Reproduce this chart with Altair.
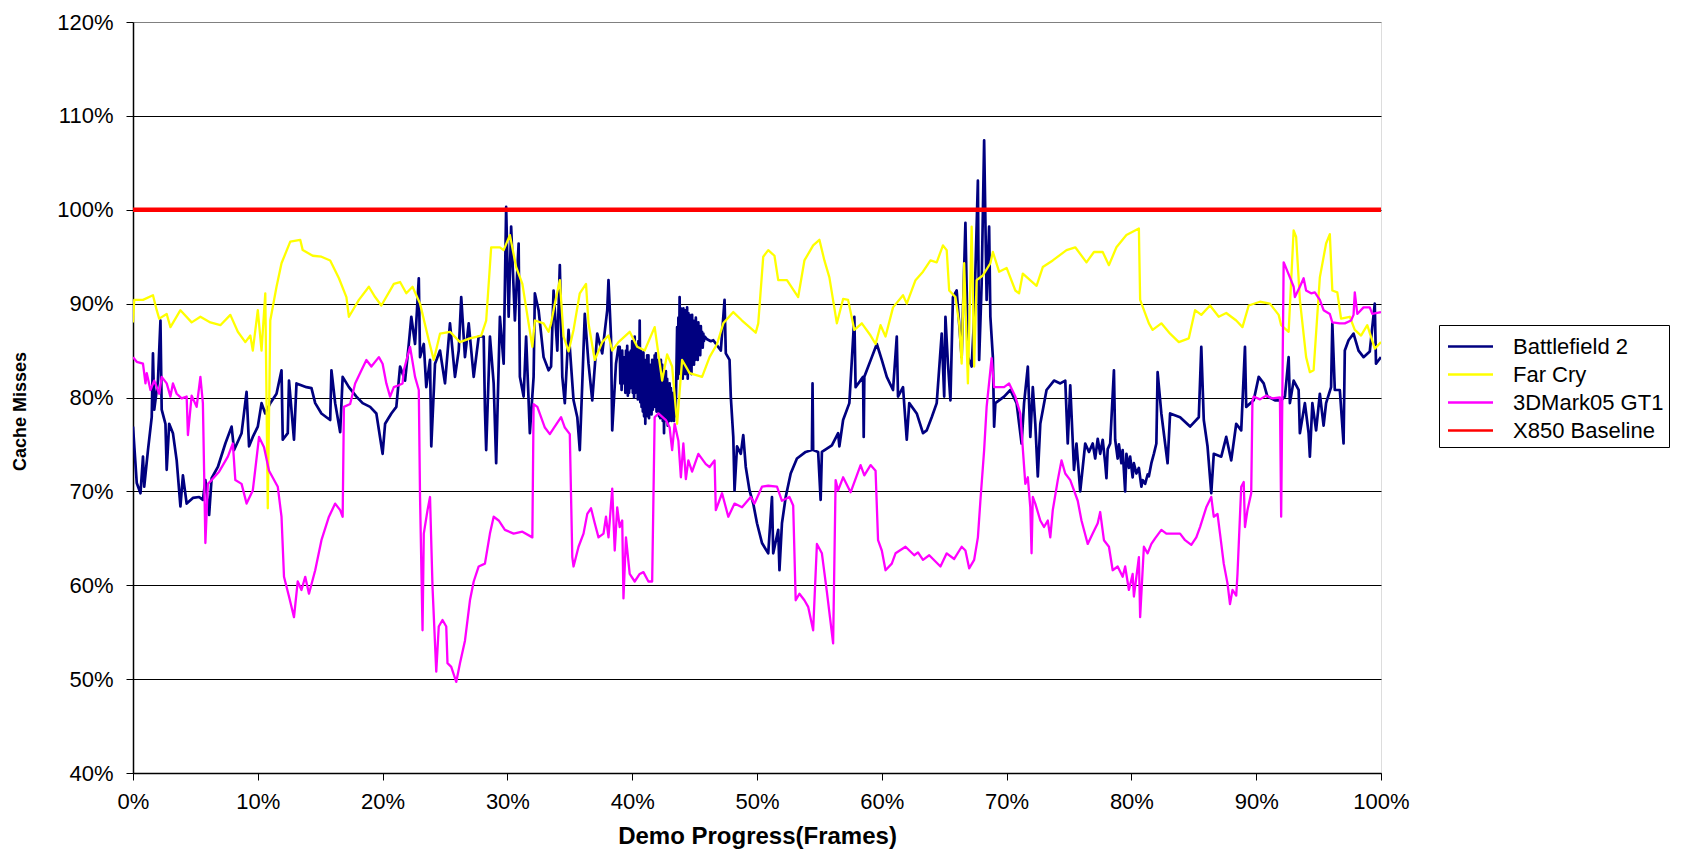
import altair as alt
import pandas as pd

SERIES = ["Battlefield 2", "Far Cry", "3DMark05 GT1", "X850 Baseline"]
COLORS = ["#000080", "#FFFF00", "#FF00FF", "#FF0000"]
WIDTHS = [2.7, 2.3, 2.3, 4.5]
X_TICKS = [0, 10, 20, 30, 40, 50, 60, 70, 80, 90, 100]
Y_TICKS = [40, 50, 60, 70, 80, 90, 100, 110, 120]

BF2_X = [0.0, 0.3, 0.6, 0.8, 0.9, 1.2, 1.5, 1.6, 1.7, 2.0, 2.2, 2.3, 2.6, 2.7, 2.9, 3.2, 3.5, 3.8, 4.0, 4.3,
         4.8, 5.3, 5.6, 5.8, 6.1, 6.3, 6.8, 7.4, 7.9, 8.1, 8.7, 9.1, 9.3, 9.6, 10.0, 10.3, 10.6, 11.0, 11.5, 11.9,
         12.0, 12.4, 12.5, 12.9, 13.1, 13.9, 14.3, 14.6, 15.1, 15.5, 15.8, 15.9, 16.2, 16.6, 16.8, 17.3, 17.9, 18.4, 19.0, 19.5,
         20.0, 20.2, 20.7, 21.1, 21.4, 21.8, 22.1, 22.3, 22.6, 22.9, 23.0, 23.3, 23.5, 23.8, 23.9, 24.2, 24.6, 25.0, 25.4, 25.8,
         26.1, 26.3, 26.6, 26.9, 27.3, 27.7, 28.1, 28.2, 28.3, 28.6, 28.9, 29.1, 29.4, 29.7, 29.9, 30.1, 30.3, 30.6, 30.9, 31.0,
         31.3, 31.5, 31.8, 32.1, 32.2, 32.5, 32.9, 33.3, 33.5, 33.7, 34.0, 34.2, 34.4, 34.6, 34.9, 35.3, 35.6, 35.8, 36.0, 36.2,
         36.5, 36.8, 37.2, 37.6, 38.0, 38.1, 38.3, 38.4, 38.7, 38.9,
         39.0, 39.05, 39.1, 39.15, 39.2, 39.25, 39.3, 39.35, 39.4, 39.45, 39.5, 39.55, 39.6, 39.65, 39.7, 39.75, 39.8, 39.85, 39.9, 39.95,
         40.0, 40.05, 40.1, 40.15, 40.2, 40.25, 40.3, 40.35, 40.4, 40.45, 40.5, 40.55, 40.6, 40.65, 40.7, 40.75, 40.8, 40.85, 40.9, 40.95,
         41.0, 41.05, 41.1, 41.15, 41.2, 41.25, 41.3, 41.35, 41.4, 41.45, 41.5, 41.55, 41.6, 41.65, 41.7, 41.75, 41.8, 41.85, 41.9, 41.95,
         42.0, 42.05, 42.1, 42.15, 42.2, 42.25, 42.3, 42.35, 42.4, 42.45, 42.5, 42.55, 42.6, 42.65, 42.7, 42.75, 42.8, 42.85, 42.9, 42.95,
         43.0, 43.05, 43.1, 43.15, 43.2, 43.25, 43.3, 43.35, 43.4, 43.45, 43.5,
         43.6, 43.65, 43.7, 43.75, 43.8, 43.85, 43.9, 43.95, 44.0, 44.05, 44.1, 44.15,
         44.2, 44.25, 44.3, 44.35, 44.4, 44.45, 44.5, 44.55, 44.6, 44.65, 44.7, 44.75, 44.8, 44.85, 44.9, 44.95, 45.0, 45.05, 45.1, 45.15,
         45.2, 45.25, 45.3, 45.35, 45.4, 45.45, 45.5, 45.55, 45.6, 45.65, 45.7, 45.75, 45.8, 46.0, 46.3,
         46.5, 47.1, 47.4, 47.5, 47.8, 47.9, 48.1, 48.2, 48.4, 48.7, 48.9, 49.1, 49.4, 49.7, 50.0, 50.4, 50.9, 51.2, 51.3, 51.7,
         51.8, 52.0, 52.3, 52.7, 53.2, 53.9, 54.4, 54.45, 54.5, 54.9, 55.1, 55.2, 56.0, 56.5, 56.6, 56.9, 57.4, 57.8, 57.9, 58.5,
         58.55, 58.6, 59.2, 59.6, 60.0, 60.4, 60.9, 61.2, 61.3, 61.7, 62.0, 62.2, 62.8, 63.3, 63.6, 64.0, 64.4, 64.8, 65.0, 65.1,
         65.3, 65.5, 65.7, 66.0, 66.4, 66.7, 66.9, 67.2, 67.4, 67.7, 67.8, 68.0, 68.2, 68.4, 68.6, 68.7, 68.9, 69.0, 69.1, 69.8,
         70.3, 70.8, 71.2, 71.4, 71.7, 71.9, 72.1, 72.3, 72.5, 72.7, 73.2, 73.8, 74.3, 74.7, 74.9, 75.1, 75.4, 75.6, 75.9, 76.3,
         76.6, 76.9, 77.1, 77.3, 77.5, 77.7, 77.9, 78.0, 78.1, 78.3, 78.6, 78.7, 78.9, 79.0, 79.2, 79.3, 79.5, 79.6, 79.8, 79.9,
         80.1, 80.2, 80.4, 80.6, 80.8, 80.9, 81.1, 81.3, 81.4, 81.6, 81.8, 82.0, 82.1, 82.4, 82.9, 83.1, 83.9, 84.7, 85.4, 85.6,
         85.8, 86.1, 86.4, 86.6, 87.2, 87.6, 88.0, 88.4, 88.8, 89.1, 89.2, 89.8, 90.2, 90.6, 90.9, 91.5, 92.0, 92.3, 92.6, 92.7,
         93.0, 93.4, 93.5, 93.9, 94.2, 94.3, 94.5, 94.8, 95.1, 95.4, 95.6, 96.0, 96.1, 96.3, 96.7, 97.0, 97.1, 97.4, 97.8, 98.2,
         98.6, 99.1, 99.5, 99.6, 100.0]
BF2_Y = [76.9, 70.9, 69.8, 73.7, 70.5, 74.4, 77.9, 84.7, 78.7, 81.8, 88.2, 78.7, 77.2, 72.3, 77.2, 76.2, 73.3, 68.4, 71.7, 68.7,
         69.3, 69.4, 69.1, 71.2, 67.5, 71.4, 72.6, 75.1, 76.9, 74.4, 76.2, 80.6, 74.8, 75.8, 76.9, 79.4, 78.3, 79.4, 80.4, 82.9,
         75.5, 76.2, 81.8, 75.5, 81.5, 81.1, 81.0, 79.4, 78.3, 77.9, 77.6, 82.9, 79.4, 76.3, 82.2, 81.1, 80.1, 79.4, 79.0, 78.3,
         74.0, 77.2, 78.3, 79.0, 83.3, 81.8, 85.7, 88.6, 85.7, 92.7, 84.3, 85.7, 81.1, 84.0, 74.8, 83.6, 85.0, 81.5, 87.9, 82.2,
         85.0, 90.7, 84.3, 87.9, 82.2, 86.5, 86.5, 78.7, 74.4, 86.5, 81.5, 73.0, 88.6, 83.6, 100.3, 88.6, 98.2, 88.2, 96.4, 82.2,
         80.1, 86.5, 76.2, 82.2, 91.1, 89.3, 84.3, 82.9, 83.3, 91.4, 85.0, 94.1, 82.2, 79.4, 87.2, 79.7, 77.9, 74.4, 81.5, 88.9,
         83.6, 79.7, 86.8, 84.7, 89.3, 92.5, 86.5, 76.5, 83.6, 85.4,
         85.4, 81.5, 84.5, 80.8, 85.0, 81.5, 84.0, 82.0, 84.3, 80.5, 85.0, 81.0, 85.5, 80.2, 84.8, 80.5, 84.0, 81.0, 85.0, 81.5,
         86.0, 80.5, 85.5, 80.0, 86.5, 80.5, 85.5, 81.0, 85.0, 79.8, 86.0, 80.5, 88.2, 79.5, 85.0, 79.0, 84.5, 78.5, 84.8, 78.0,
         84.0, 77.2, 83.5, 78.5, 84.5, 78.0, 84.5, 77.8, 83.5, 78.5, 83.0, 78.2, 84.0, 78.7, 84.0, 79.0, 84.5, 79.5, 84.7, 78.5,
         84.0, 79.0, 83.5, 78.0, 84.0, 77.8, 84.0, 78.0, 83.5, 77.5, 83.0, 76.2, 82.5, 77.5, 82.8, 78.0, 82.0, 77.0, 81.5, 77.5,
         81.5, 78.0, 81.0, 77.5, 80.5, 78.0, 80.5, 77.5, 80.0, 78.0, 79.5,
         87.5, 82.0, 88.5, 83.0, 90.7, 82.5, 89.5, 83.5, 89.0, 82.0, 89.5, 83.0,
         89.0, 82.5, 89.3, 83.0, 89.6, 82.0, 89.0, 82.8, 88.8, 83.5, 88.5, 82.5, 88.8, 84.0, 88.2, 83.5, 88.0, 84.0, 88.5, 84.5,
         87.8, 84.0, 88.0, 85.0, 87.5, 84.5, 87.6, 85.5, 87.0, 85.3, 86.8, 86.0, 86.5, 86.2, 86.0,
         86.1, 85.0, 90.4, 84.7, 84.0, 80.1, 75.8, 70.1, 74.8, 74.0, 76.0, 72.6, 70.1, 68.7, 66.6, 64.5, 63.4, 69.4, 63.4, 65.9,
         61.6, 66.6, 69.4, 71.9, 73.5, 74.2, 74.4, 81.5, 74.4, 74.2, 69.1, 74.2, 74.9, 76.2, 74.8, 77.6, 79.4, 88.6, 81.1, 82.2,
         75.8, 82.2, 84.3, 85.7, 84.0, 82.2, 80.8, 86.5, 80.1, 81.1, 75.5, 79.4, 78.3, 76.2, 76.5, 77.9, 79.4, 86.8, 80.1, 88.6,
         83.6, 79.7, 90.7, 91.4, 84.3, 98.6, 84.3, 83.3, 88.6, 103.1, 84.0, 92.1, 107.4, 90.4, 98.2, 88.6, 84.3, 76.9, 79.4, 80.1,
         80.8, 79.4, 75.1, 79.4, 83.3, 75.8, 81.1, 77.2, 71.6, 77.2, 80.8, 81.8, 81.5, 81.8, 75.1, 81.3, 72.3, 75.1, 70.0, 75.1,
         74.2, 75.1, 73.5, 75.6, 74.0, 75.5, 73.0, 71.4, 74.5, 75.1, 82.9, 75.5, 73.5, 75.0, 73.0, 74.4, 70.0, 74.0, 72.5, 73.7,
         71.5, 73.0, 71.9, 72.5, 70.5, 71.2, 70.8, 71.8, 71.6, 73.0, 74.0, 75.1, 82.7, 78.3, 73.0, 78.3, 77.9, 76.9, 77.9, 85.4,
         77.6, 74.8, 69.8, 74.0, 73.7, 75.8, 73.3, 77.2, 76.5, 85.4, 79.0, 79.7, 82.2, 81.5, 80.1, 79.7, 79.7, 80.1, 84.3, 79.4,
         81.8, 80.8, 76.2, 79.4, 76.2, 73.7, 79.4, 76.5, 80.4, 77.0, 79.4, 81.1, 87.9, 80.8, 80.8, 75.1, 85.0, 86.1, 86.8, 85.0,
         84.3, 84.9, 90.0, 83.6, 84.3]

FC_X = [0.0, 0.1, 0.8, 1.6, 1.9, 2.1, 2.7, 3.0, 3.8, 4.7, 5.4, 6.2, 7.0, 7.8, 8.4, 9.0, 9.4, 9.6, 10.0, 10.3,
        10.6, 10.8, 11.0, 11.5, 11.9, 12.6, 13.4, 13.6, 14.4, 15.1, 15.8, 16.5, 17.1, 17.3, 18.1, 18.9, 19.4, 19.9, 20.9, 21.4,
        21.9, 22.4, 23.0, 23.7, 24.1, 24.6, 25.4, 26.2, 27.0, 27.9, 28.3, 28.7, 29.4, 29.7, 30.2, 30.7, 31.2, 31.7, 32.0, 32.2,
        32.9, 33.3, 33.5, 33.8, 34.2, 34.5, 34.9, 35.3, 35.8, 36.3, 36.5, 37.0, 37.6, 38.1, 38.4, 38.9, 39.8, 40.4, 41.0, 41.8,
        42.4, 42.8, 43.2, 43.6, 44.0, 44.6, 45.6, 46.2, 46.8, 47.3, 48.1, 48.8, 49.4, 49.9, 50.1, 50.5, 50.9, 51.4, 51.7, 52.4,
        53.3, 53.8, 54.5, 55.0, 55.4, 55.8, 56.4, 56.9, 57.3, 57.8, 58.4, 59.1, 59.5, 59.9, 60.3, 60.9, 61.7, 62.0, 62.7, 63.3,
        63.9, 64.4, 64.9, 65.2, 65.4, 65.9, 66.2, 66.4, 66.6, 66.9, 67.2, 67.4, 67.6, 68.1, 68.7, 68.9, 69.4, 70.0, 70.7, 71.0,
        71.3, 72.4, 72.9, 73.7, 74.8, 75.5, 76.4, 77.0, 77.7, 78.2, 78.8, 79.6, 80.6, 80.7, 81.4, 81.7, 82.4, 83.1, 83.8, 84.6,
        85.1, 85.6, 86.3, 87.0, 87.6, 88.4, 88.9, 89.4, 90.3, 91.1, 91.8, 92.0, 92.6, 93.0, 93.2, 93.5, 94.0, 94.3, 94.6, 95.1,
        95.6, 95.9, 96.1, 96.5, 96.8, 97.5, 97.9, 98.4, 98.9, 99.5, 100.0]
FC_Y = [88.0, 90.4, 90.4, 90.9, 89.3, 88.4, 88.9, 87.5, 89.3, 88.0, 88.6, 88.0, 87.7, 88.8, 87.0, 85.9, 86.6, 85.0, 89.3, 85.0,
        91.1, 68.2, 88.2, 91.8, 94.3, 96.6, 96.8, 95.7, 95.1, 95.0, 94.6, 92.7, 90.7, 88.6, 90.4, 91.8, 90.7, 89.8, 92.1, 92.3,
        91.1, 91.8, 90.0, 86.1, 84.0, 86.8, 87.0, 85.9, 86.3, 86.6, 88.2, 96.0, 96.0, 95.7, 97.3, 93.9, 92.1, 87.9, 85.4, 88.2,
        87.9, 87.0, 87.9, 90.0, 92.5, 86.5, 84.9, 87.2, 91.1, 92.1, 87.9, 84.0, 85.9, 86.6, 85.0, 85.9, 87.0, 85.4, 85.0, 87.5,
        81.8, 84.6, 83.3, 77.2, 84.0, 82.6, 82.2, 84.3, 85.7, 87.9, 89.1, 88.2, 87.5, 86.9, 87.9, 95.0, 95.7, 95.1, 92.5, 92.5,
        90.7, 94.6, 96.2, 96.8, 94.6, 92.8, 87.9, 90.5, 90.4, 87.2, 87.9, 86.6, 85.7, 87.7, 86.5, 89.6, 90.9, 90.0, 92.5, 93.4,
        94.6, 94.4, 96.2, 95.7, 91.4, 90.7, 87.9, 83.6, 94.3, 81.5, 98.2, 83.3, 92.5, 93.0, 94.3, 95.5, 93.4, 93.8, 91.4, 91.1,
        93.2, 91.9, 93.9, 94.6, 95.7, 96.0, 94.4, 95.5, 95.5, 94.1, 96.0, 97.3, 98.0, 90.4, 87.9, 87.2, 87.9, 86.8, 85.9, 86.3,
        89.3, 88.8, 89.8, 88.6, 89.0, 88.2, 87.5, 89.8, 90.2, 90.0, 88.8, 87.7, 87.0, 97.8, 97.1, 90.4, 84.3, 82.7, 82.9, 92.8,
        96.4, 97.4, 91.4, 91.2, 88.4, 88.6, 87.2, 86.6, 87.7, 85.2, 85.9]

GT1_X = [0.0, 0.3, 0.8, 1.0, 1.1, 1.4, 1.7, 2.1, 2.3, 2.7, 3.0, 3.2, 3.5, 3.9, 4.3, 4.4, 4.7, 5.1, 5.4, 5.6,
         5.8, 6.0, 6.3, 6.9, 7.6, 8.0, 8.2, 8.7, 9.1, 9.6, 10.1, 10.5, 10.9, 11.6, 11.9, 12.1, 12.5, 12.9, 13.2, 13.5,
         13.8, 14.1, 14.6, 15.1, 15.7, 16.2, 16.6, 16.8, 16.9, 17.4, 17.8, 18.2, 18.7, 19.1, 19.7, 20.0, 20.3, 20.6, 20.9, 21.3,
         21.6, 21.7, 22.2, 22.6, 22.9, 23.0, 23.2, 23.3, 23.6, 23.8, 24.0, 24.3, 24.5, 24.8, 25.1, 25.2, 25.5, 25.9, 26.2, 26.6,
         27.0, 27.3, 27.7, 28.2, 28.6, 28.9, 29.3, 29.8, 30.5, 31.2, 32.0, 32.1, 32.4, 33.0, 33.4, 33.7, 34.3, 34.6, 35.0, 35.2,
         35.3, 35.7, 36.1, 36.4, 36.7, 37.0, 37.3, 37.7, 37.9, 38.1, 38.4, 38.6, 38.8, 39.0, 39.2, 39.3, 39.5, 39.8, 40.2, 40.6,
         40.9, 41.3, 41.6, 41.8, 42.1, 42.7, 43.0, 43.2, 43.4, 43.7, 43.9, 44.1, 44.3, 44.5, 44.8, 45.3, 45.9, 46.2, 46.6, 46.7,
         47.2, 47.7, 48.2, 48.8, 49.5, 49.8, 50.4, 50.9, 51.6, 52.0, 52.6, 52.9, 53.1, 53.4, 53.8, 54.1, 54.5, 54.8, 55.2, 55.6,
         56.1, 56.3, 56.5, 56.9, 57.5, 58.3, 58.6, 59.1, 59.5, 59.7, 60.0, 60.3, 60.8, 61.1, 61.9, 62.6, 62.9, 63.3, 63.8, 64.7,
         65.2, 65.8, 66.4, 66.7, 67.0, 67.4, 67.7, 67.9, 68.2, 68.4, 68.8, 69.0, 69.8, 70.2, 70.7, 71.1, 71.5, 71.7, 71.9, 72.0,
         72.1, 72.3, 72.7, 73.0, 73.3, 73.5, 73.7, 74.1, 74.4, 74.7, 75.1, 75.4, 75.7, 76.0, 76.5, 76.9, 77.3, 77.5, 77.8, 78.2,
         78.5, 78.9, 79.3, 79.5, 79.8, 80.1, 80.2, 80.6, 80.7, 81.0, 81.3, 81.6, 81.9, 82.4, 82.8, 83.3, 83.9, 84.3, 84.8, 85.2,
         85.5, 86.0, 86.4, 86.6, 86.9, 87.1, 87.4, 87.7, 87.9, 88.1, 88.4, 88.5, 88.8, 89.0, 89.1, 89.3, 89.6, 89.7, 89.8, 90.3,
         90.8, 91.3, 91.9, 92.0, 92.2, 92.3, 92.7, 93.0, 93.1, 93.5, 93.8, 94.0, 94.4, 94.7, 95.1, 95.4, 95.9, 96.1, 96.7, 97.1,
         97.6, 97.8, 97.9, 98.1, 98.6, 99.1, 99.3, 100.0]
GT1_Y = [84.3, 83.8, 83.6, 81.5, 82.6, 80.8, 81.8, 80.4, 82.2, 81.5, 80.1, 81.5, 80.4, 79.9, 80.1, 76.0, 80.2, 79.0, 82.2, 79.4,
         64.5, 70.8, 71.2, 72.1, 73.7, 75.1, 71.2, 70.8, 68.7, 70.1, 75.8, 74.7, 72.2, 70.5, 67.3, 60.9, 58.8, 56.6, 60.4, 59.5,
         60.9, 59.1, 61.6, 64.8, 67.3, 68.7, 68.0, 67.3, 79.0, 79.3, 81.5, 82.6, 84.0, 83.3, 84.3, 83.6, 81.5, 80.1, 81.1, 81.3,
         81.5, 82.9, 85.4, 82.2, 80.8, 69.4, 55.2, 65.5, 68.0, 69.4, 59.8, 50.8, 55.6, 56.3, 55.6, 51.7, 51.3, 49.7, 51.7, 54.1,
         58.4, 60.4, 62.0, 62.3, 65.5, 67.3, 66.9, 65.9, 65.5, 65.7, 65.1, 79.3, 79.0, 76.8, 76.1, 76.7, 77.9, 76.8, 76.1, 63.0,
         62.0, 64.1, 65.5, 67.6, 68.2, 66.6, 65.1, 65.5, 67.3, 65.1, 70.3, 63.7, 68.3, 66.2, 66.9, 58.6, 65.1, 61.2, 60.4, 61.2,
         61.4, 60.4, 60.4, 77.9, 78.3, 77.6, 76.8, 74.4, 77.2, 75.4, 71.5, 75.1, 71.3, 73.3, 72.1, 74.0, 72.9, 72.6, 73.3, 68.0,
         69.8, 67.3, 68.7, 68.3, 69.4, 68.7, 70.5, 70.6, 70.5, 69.0, 69.4, 68.5, 58.4, 59.1, 58.4, 57.7, 55.2, 64.4, 63.4, 59.3,
         53.8, 71.2, 70.1, 71.5, 69.9, 72.8, 71.7, 72.8, 72.2, 64.8, 63.7, 61.6, 62.3, 63.4, 64.1, 63.2, 63.5, 62.7, 63.2, 62.0,
         63.4, 62.8, 64.1, 63.7, 61.8, 62.7, 65.1, 69.0, 74.4, 79.0, 84.2, 81.1, 81.1, 81.5, 80.1, 78.3, 70.8, 71.5, 68.3, 63.4,
         69.4, 68.7, 66.9, 66.2, 66.9, 65.1, 68.0, 71.2, 73.3, 71.9, 71.2, 70.1, 69.0, 66.9, 64.4, 65.5, 66.6, 67.8, 64.8, 64.1,
         61.6, 62.0, 60.9, 62.0, 59.5, 61.2, 58.8, 63.0, 56.6, 64.1, 63.4, 64.4, 65.0, 65.9, 65.5, 65.5, 65.5, 64.8, 64.3, 65.1,
         66.2, 68.3, 69.4, 67.3, 67.6, 65.5, 62.3, 60.2, 58.0, 59.5, 58.9, 61.2, 70.5, 71.0, 66.2, 68.0, 69.8, 79.7, 80.1, 79.8,
         80.2, 79.9, 80.0, 67.3, 94.4, 94.1, 92.8, 91.8, 90.7, 91.8, 92.7, 91.4, 91.1, 91.2, 90.4, 89.3, 88.9, 88.0, 87.9, 87.9,
         88.2, 88.8, 91.2, 88.9, 89.6, 89.6, 88.9, 89.1]

BASE_X = [0, 100]
BASE_Y = [100, 100]

rows = []
for name, xs, ys in [(SERIES[0], BF2_X, BF2_Y), (SERIES[1], FC_X, FC_Y),
                     (SERIES[2], GT1_X, GT1_Y), (SERIES[3], BASE_X, BASE_Y)]:
    for i, (xv, yv) in enumerate(zip(xs, ys)):
        rows.append({"series": name, "x": xv, "y": yv, "i": i})
df = pd.DataFrame(rows)

FONT = "Liberation Sans"

x_enc = alt.X("x:Q", scale=alt.Scale(domain=[0, 100], nice=False, zero=False),
              axis=alt.Axis(values=X_TICKS, labelExpr="datum.value + '%'", grid=False,
                            title="Demo Progress(Frames)", titleFont=FONT, titleFontSize=24,
                            titleFontWeight="bold", titleColor="black", titleX=624, titleY=63,
                            titleAlign="center", titleBaseline="middle",
                            labelFont=FONT, labelFontSize=22, labelColor="black", labelPadding=11,
                            labelFlush=False, labelOverlap=False,
                            tickSize=7, tickColor="black", tickWidth=1,
                            domainColor="black", domainWidth=1.5))
y_enc = alt.Y("y:Q", scale=alt.Scale(domain=[40, 120], nice=False, zero=False),
              axis=alt.Axis(values=Y_TICKS, labelExpr="datum.value + '%'", grid=True,
                            gridColor={"condition": {"test": "datum.value === 120", "value": "#808080"},
                                       "value": "#000000"},
                            gridWidth=1,
                            title="Cache Misses", titleFont=FONT, titleFontSize=18,
                            titleFontWeight="bold", titleColor="black", titleAngle=270,
                            titleX=-113, titleY=389, titleAlign="center", titleBaseline="middle",
                            labelFont=FONT, labelFontSize=22, labelColor="black", labelPadding=13,
                            labelFlush=False, labelOverlap=False,
                            tickSize=7, tickColor="black", tickWidth=1,
                            domainColor="black", domainWidth=1.5))

legend = alt.Legend(title=None, orient="none", legendX=1306, legendY=303,
                    fillColor="white", strokeColor="black", padding=5,
                    labelFont=FONT, labelFontSize=22, labelColor="black", labelOffset=26,
                    rowPadding=0, symbolType="M-1.5,0L1.5,0", symbolSize=900,
                    symbolOffset=10, symbolStrokeWidth=2.7)

color_enc = alt.Color("series:N", scale=alt.Scale(domain=SERIES, range=COLORS), legend=legend)

layers = []
for name, w in zip(SERIES, WIDTHS):
    layers.append(
        alt.Chart(df)
        .transform_filter(alt.datum.series == name)
        .mark_line(strokeJoin="round", strokeWidth=w, clip=True)
        .encode(x=x_enc, y=y_enc, order=alt.Order("i:Q"), color=color_enc)
    )

chart = (
    alt.layer(*layers)
    .properties(width=1248, height=751,
                autosize=alt.AutoSizeParams(type="none"),
                padding={"left": 125, "top": 14, "right": 290, "bottom": 84})
    .configure_view(fill="#C0C0C0", stroke="#808080", strokeWidth=1.5)
    .configure(background="white")
)

chart.save("out.html", embed_options={"renderer": "svg", "actions": False})
